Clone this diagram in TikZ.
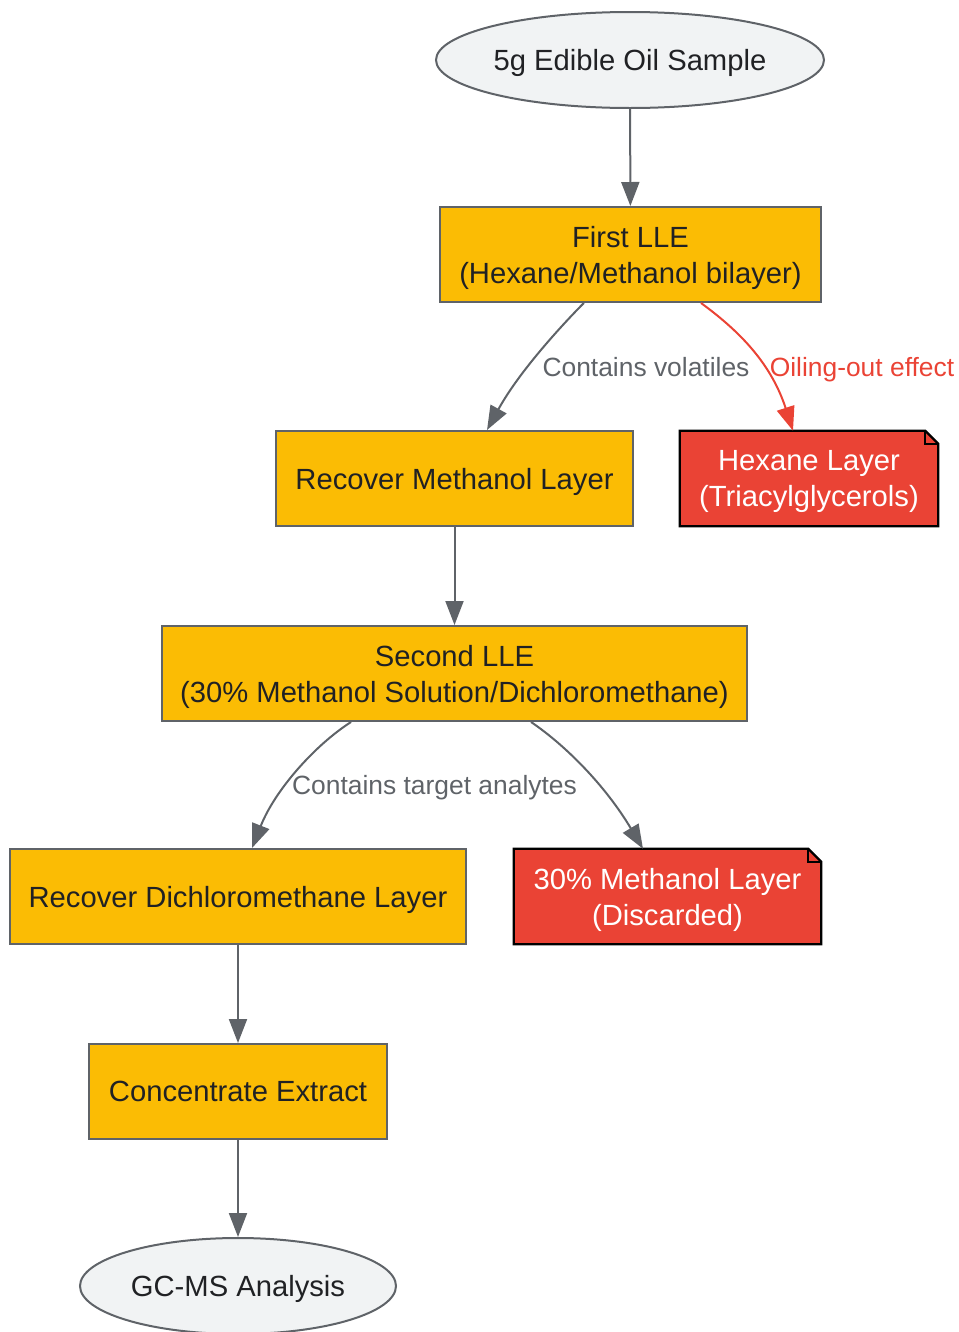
\documentclass[tikz,border=0pt]{standalone}
\usepackage{fontspec}
\setmainfont{Liberation Sans}
\usetikzlibrary{arrows.meta, shapes, positioning}
\definecolor{boxyellow}{RGB}{251,188,4}
\definecolor{notered}{RGB}{234,67,53}
\definecolor{edgegray}{RGB}{95,99,104}
\definecolor{termgray}{RGB}{241,243,244}
\definecolor{textdark}{RGB}{32,33,36}
\tikzset{stepnode/.style={rectangle, fill=boxyellow, draw=edgegray, line width=1.5pt, minimum height=71.25pt, align=center, text depth=0pt, text=textdark, font=\fontsize{21.9}{27}\selectfont},
termnode/.style={ellipse, fill=termgray, draw=edgegray, line width=1.5pt, minimum height=72pt, inner sep=0pt, text depth=0pt, text=textdark, font=\fontsize{21.9}{27}\selectfont},
notenode/.style={rectangle, fill=notered, minimum height=71.25pt, align=center, text depth=0pt, text=white, font=\fontsize{21.9}{27}\selectfont}}
\tikzset{flow/.style={-{Triangle[length=18pt, width=13.5pt]}, color=edgegray, line width=1.5pt},
edgelabel/.style={text=edgegray, font=\fontsize{19.8}{24}\selectfont, text depth=0pt, inner sep=1pt}}

\begin{document}
\begin{tikzpicture}[x=0.75pt, y=-0.75pt]
        \useasboundingbox (0,0) rectangle (959,1332);
        % Nodes
        \node[termnode, minimum width=291pt] (sample) at (630,60) {5g Edible Oil Sample};
        \node[stepnode, minimum width=285.75pt] (firstlle) at (630.5,254.5) {First LLE\\(Hexane/Methanol bilayer)};
        \node[stepnode, minimum width=267.75pt] (recovermeoh) at (454.5,478.5) {Recover Methanol Layer};
        \node[notenode, minimum width=193.5pt] (hexane) at (809,478.5) {Hexane Layer\\(Triacylglycerols)};
        \node[stepnode, minimum width=438.75pt] (secondlle) at (454.5,673.5) {Second LLE\\(30\% Methanol Solution/Dichloromethane)};
        \node[stepnode, minimum width=342pt] (recoverdcm) at (238,896.5) {Recover Dichloromethane Layer};
        \node[notenode, minimum width=230.25pt] (meohlayer) at (667.5,896.5) {30\% Methanol Layer\\(Discarded)};
        \node[stepnode, minimum width=223.5pt] (concentrate) at (238,1091.5) {Concentrate Extract};
        \node[termnode, minimum width=237pt] (gcms) at (238,1286) {GC-MS Analysis};
        % Folded corners
        \foreach \n in {hexane, meohlayer} {
            \fill[white] ([xshift=-9.75pt]\n.north east) -- (\n.north east) -- ([yshift=-9.75pt]\n.north east) -- cycle;
            \draw[black, line width=1.8pt, line join=miter] (\n.north west) -- ([xshift=-9.75pt]\n.north east) -- ([yshift=-9.75pt]\n.north east) -- (\n.south east) -- (\n.south west) -- cycle;
            \draw[black, line width=1.5pt] ([xshift=-9.75pt]\n.north east) |- ([yshift=-9.75pt]\n.north east);
        }
        % Edges
        \draw[flow] (sample) -- (firstlle);
        \draw[flow] ([xshift=-35pt]firstlle.south) .. controls (565,322) and (520,370) .. ([xshift=24.4pt]recovermeoh.north);
        \draw[flow, color=notered] ([xshift=52.9pt]firstlle.south) .. controls (735,328) and (770,360) .. ([xshift=-12pt]hexane.north);
        \draw[flow] (recovermeoh) -- (secondlle);
        \draw[flow] ([xshift=-77.6pt]secondlle.south) .. controls (315,745) and (275,790) .. ([xshift=10.5pt]recoverdcm.north);
        \draw[flow] ([xshift=57.4pt]secondlle.south) .. controls (565,745) and (605,785) .. ([xshift=-18.4pt]meohlayer.north);
        \draw[flow] (recoverdcm) -- (concentrate);
        \draw[flow] (concentrate) -- (gcms);
        % Edge labels
        \node[edgelabel] (volatiles) at (646,367) {Contains volatiles};
        \node[edgelabel, text=notered] (oilingout) at (862,367) {Oiling-out effect};
        \node[edgelabel] (analytes) at (434.5,785) {Contains target analytes};
\end{tikzpicture}
\end{document}
